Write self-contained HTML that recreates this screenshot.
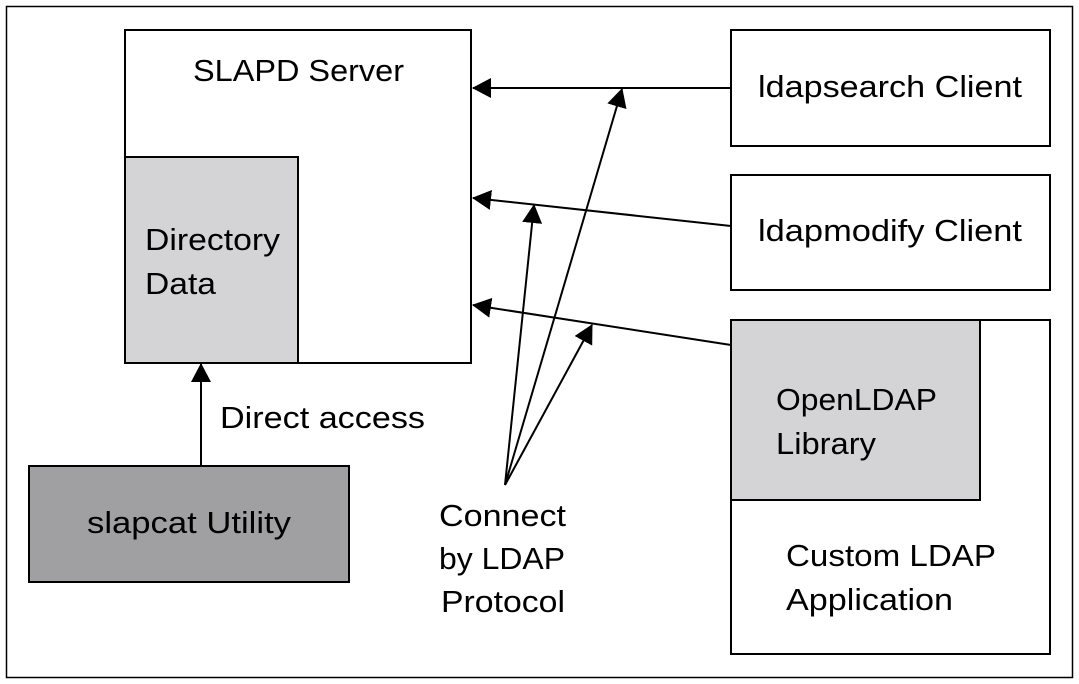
<!DOCTYPE html>
<html><head><style>
body{margin:0;background:#fff}
svg{display:block}
text{font-family:"Liberation Sans",sans-serif;font-size:31px;fill:#000}
</style></head><body>
<svg width="1079" height="684" viewBox="0 0 1079 684">
<defs><marker id="a" markerWidth="20" markerHeight="20" refX="18" refY="10" orient="auto" markerUnits="userSpaceOnUse"><path d="M0,0 L19,10 L0,20 Z" fill="#000"/></marker></defs>
<rect x="6.5" y="6.5" width="1066" height="671" fill="none" stroke="#000" stroke-width="1.5"/>
<rect x="125" y="30" width="346" height="333" fill="#fff" stroke="#000" stroke-width="2"/>
<rect x="125" y="157" width="173" height="206" fill="#d4d4d6" stroke="#000" stroke-width="2"/>
<rect x="29" y="466" width="320" height="116" fill="#a0a0a2" stroke="#000" stroke-width="2"/>
<rect x="731" y="30" width="319" height="116" fill="#fff" stroke="#000" stroke-width="2"/>
<rect x="731" y="175" width="319" height="115" fill="#fff" stroke="#000" stroke-width="2"/>
<rect x="731" y="320" width="319" height="334" fill="#fff" stroke="#000" stroke-width="2"/>
<rect x="731" y="320" width="249" height="180" fill="#d4d4d6" stroke="#000" stroke-width="2"/>
<g stroke="#000" stroke-width="2" marker-end="url(#a)">
<line x1="201" y1="466" x2="201" y2="364"/>
<line x1="731" y1="88" x2="473" y2="88"/>
<line x1="731" y1="226" x2="473" y2="198"/>
<line x1="731" y1="345" x2="473" y2="305"/>
<line x1="505" y1="485" x2="622" y2="89"/>
<line x1="505" y1="485" x2="534" y2="205"/>
<line x1="505" y1="485" x2="592" y2="325"/>
</g>
<g lengthAdjust="spacingAndGlyphs">
<text x="193" y="81" textLength="211" lengthAdjust="spacingAndGlyphs">SLAPD Server</text>
<text x="145" y="250" textLength="135" lengthAdjust="spacingAndGlyphs">Directory</text>
<text x="145" y="294" textLength="71" lengthAdjust="spacingAndGlyphs">Data</text>
<text x="220" y="428" textLength="205" lengthAdjust="spacingAndGlyphs">Direct access</text>
<text x="87" y="533" textLength="204" lengthAdjust="spacingAndGlyphs">slapcat Utility</text>
<text x="758" y="97" textLength="264" lengthAdjust="spacingAndGlyphs">ldapsearch Client</text>
<text x="758" y="241" textLength="264" lengthAdjust="spacingAndGlyphs">ldapmodify Client</text>
<text x="776" y="410" textLength="161" lengthAdjust="spacingAndGlyphs">OpenLDAP</text>
<text x="776" y="454" textLength="100" lengthAdjust="spacingAndGlyphs">Library</text>
<text x="786" y="566" textLength="210" lengthAdjust="spacingAndGlyphs">Custom LDAP</text>
<text x="786" y="610" textLength="167" lengthAdjust="spacingAndGlyphs">Application</text>
<text x="439" y="526" textLength="127" lengthAdjust="spacingAndGlyphs">Connect</text>
<text x="439" y="569" textLength="126" lengthAdjust="spacingAndGlyphs">by LDAP</text>
<text x="441" y="612" textLength="124" lengthAdjust="spacingAndGlyphs">Protocol</text>
</g>
</svg>
</body></html>
